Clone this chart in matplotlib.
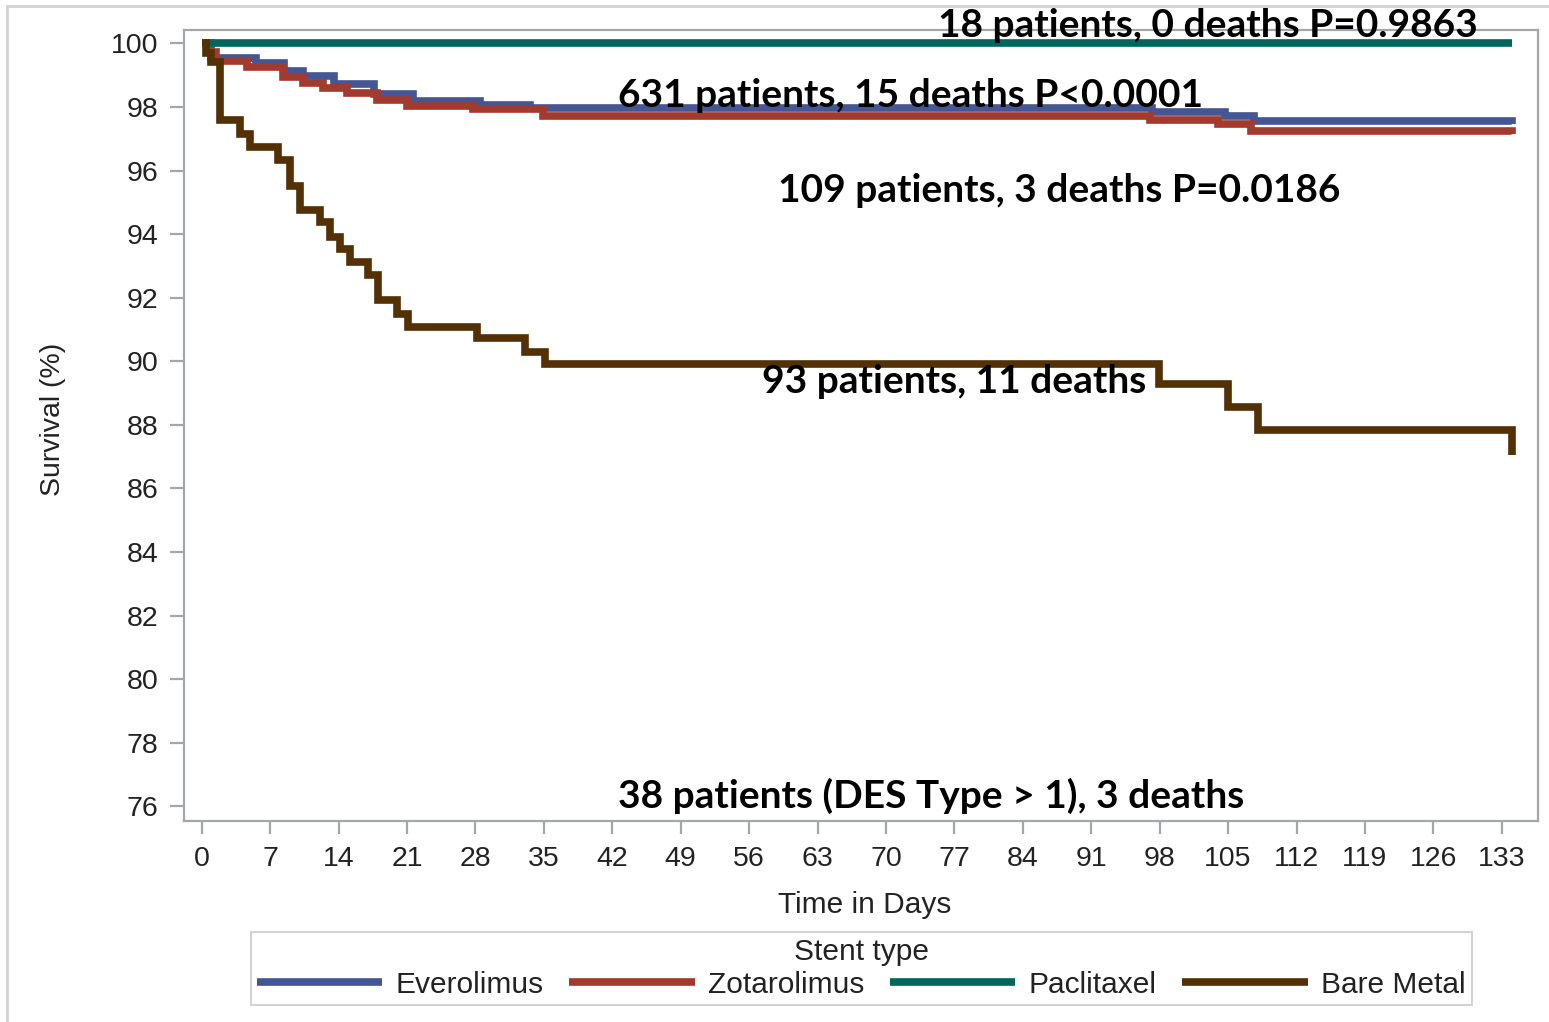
import matplotlib
matplotlib.use("Agg")
import matplotlib.pyplot as plt
from matplotlib.patches import Rectangle

# survival curves (day, survival %)
evero_days = [0, 1, 5.6, 8.4, 10.4, 13.5, 17.6, 21.6, 28.5, 33.6, 97.2, 104.7, 107.6, 134]
evero_surv = [100, 99.55, 99.38, 99.12, 98.97, 98.72, 98.42, 98.2, 98.06, 97.96, 97.84, 97.72, 97.55, 97.48]

zota_days = [0, 0.5, 1.5, 4.6, 8.3, 10.4, 12.4, 14.9, 17.9, 21.0, 27.8, 34.9, 97.0, 104.0, 107.3, 134]
zota_surv = [100, 99.72, 99.45, 99.25, 98.95, 98.76, 98.6, 98.45, 98.22, 98.03, 97.93, 97.73, 97.6, 97.45, 97.25, 97.15]

pacli_days = [0, 134]
pacli_surv = [100, 100]

bare_days = [0, 0.4, 1.0, 1.9, 3.9, 4.9, 7.8, 9.0, 10.1, 12.1, 13.1, 14.1, 15.2, 17.0, 18.0,
             20.0, 21.1, 28.2, 33.1, 35.1, 97.9, 105.0, 108.1, 134.0]
bare_surv = [100, 99.7, 99.4, 97.58, 97.16, 96.74, 96.32, 95.53, 94.75, 94.38, 93.9, 93.54, 93.12,
             92.7, 91.92, 91.5, 91.07, 90.72, 90.28, 89.93, 89.3, 88.56, 87.83, 87.04]

labels = ["Everolimus", "Zotarolimus", "Paclitaxel", "Bare Metal"]
colors = ["#445694", "#A23A2E", "#01665E", "#543005"]

notes = [
    (75.3, 100.2, "18 patients, 0 deaths P=0.9863"),
    (42.6, 98.0, "631 patients, 15 deaths P<0.0001"),
    (59.0, 95.0, "109 patients, 3 deaths P=0.0186"),
    (57.3, 89.0, "93 patients, 11 deaths"),
    (42.6, 75.94, "38 patients (DES Type > 1), 3 deaths"),
]

plt.rcParams['font.family'] = ['Liberation Sans', 'DejaVu Sans']
txt = '#222222'
grey = '#a3a7ab'

fig = plt.figure(figsize=(15.49, 10.22), dpi=100)
ax = fig.add_axes([0.1188, 0.197, 0.8741, 0.7736])

series = [(evero_days, evero_surv), (zota_days, zota_surv),
          (pacli_days, pacli_surv), (bare_days, bare_surv)]
handles = []
for (d, s), lab, c in zip(series, labels, colors):
    ln, = ax.step(d, s, where='post', color=c, lw=5.5, solid_joinstyle='miter',
                  solid_capstyle='butt', label=lab)
    handles.append(ln)

ax.set_xlim(-1.81, 136.7)
ax.set_ylim(75.55, 100.42)
ax.set_xticks(range(0, 134, 7))
ax.set_yticks(range(76, 101, 2))

for sp in ax.spines.values():
    sp.set_color(grey)
    sp.set_linewidth(1.6)
ax.tick_params(axis='y', length=10, width=1.6, color=grey, pad=8.5, labelsize=20.5, labelcolor=txt)
ax.tick_params(axis='x', length=9, width=1.6, color=grey, pad=9, labelsize=20.5, labelcolor=txt)

ax.set_ylabel("Survival (%)", fontsize=20.5, color=txt, va='center')
ax.yaxis.set_label_coords(-0.0967, 0.507)
ax.set_xlabel("Time in Days", fontsize=21.5, color=txt, va='center')
ax.xaxis.set_label_coords(0.503, -0.1066)

for x, y, s in notes:
    ax.text(x, y, s, fontsize=28, fontweight='bold', family='Lato', color='black',
            ha='left', va='baseline', clip_on=False, zorder=5)

leg = fig.legend(handles, labels, title="Stent type", ncol=4, loc='center',
                 bbox_to_anchor=(0.556, 0.0523), frameon=True, fancybox=False,
                 edgecolor='#c8c8c8', handlelength=4.2, handletextpad=0.45,
                 columnspacing=0.85, fontsize=21.5, title_fontsize=21.5,
                 borderpad=0.2, labelspacing=0.15)
leg.get_frame().set_linewidth(1.5)
for t in leg.get_texts():
    t.set_color(txt)
leg.get_title().set_color(txt)

# light frame around the whole picture
fig.add_artist(Rectangle((0.0048, -0.05), 1.2, 0.9946 + 0.05, transform=fig.transFigure,
                         fill=False, ec='#d3d3d3', lw=2))

fig.savefig("out.png", dpi=100)
